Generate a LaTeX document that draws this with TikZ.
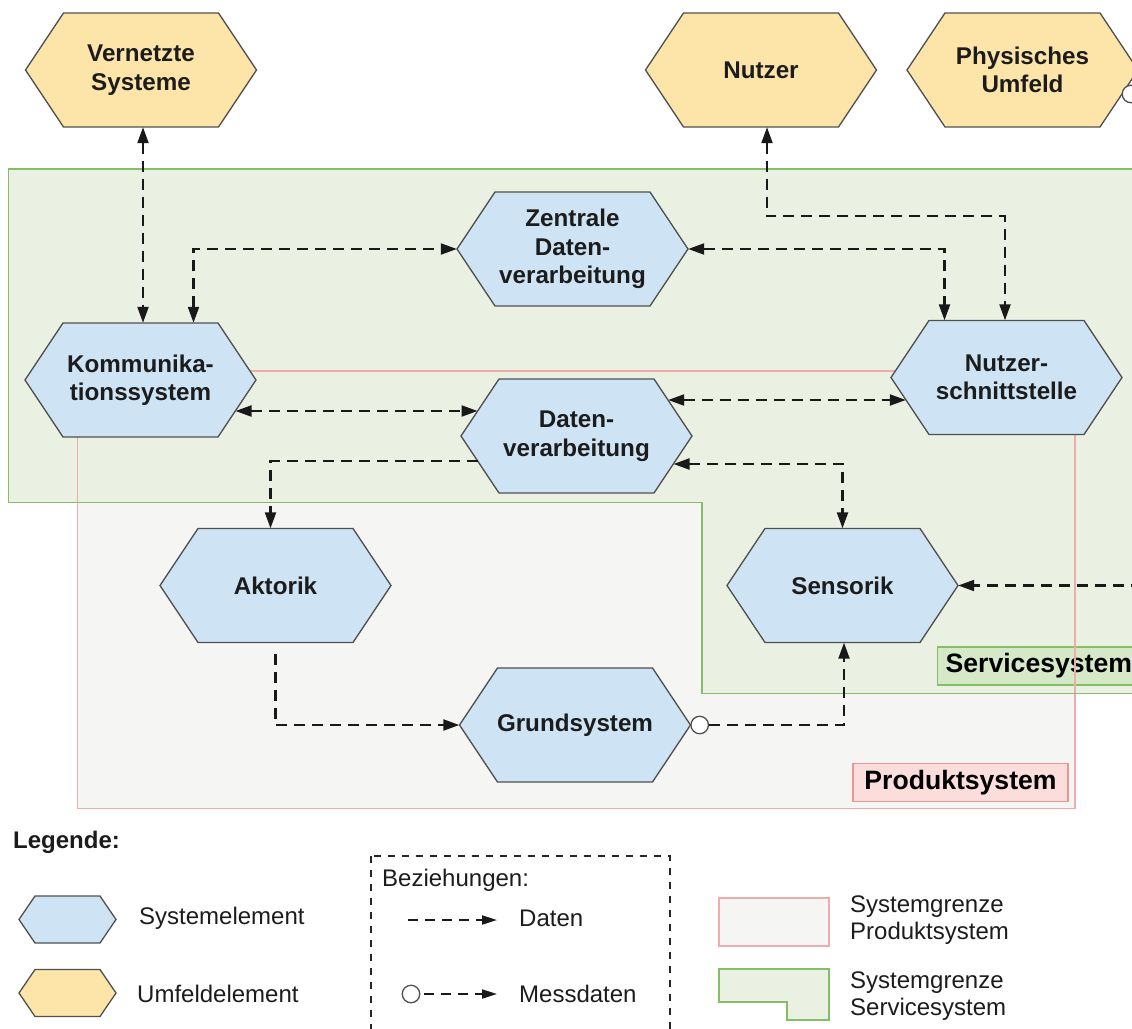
\documentclass[tikz,border=0pt]{standalone}
\usepackage{fontspec}
\setmainfont{Liberation Sans}
\usetikzlibrary{calc,arrows.meta}

\definecolor{sysfill}{RGB}{206,228,245}
\definecolor{envfill}{RGB}{253,229,170}
\definecolor{hexdraw}{RGB}{80,80,80}
\definecolor{servfill}{RGB}{235,241,226}
\definecolor{servline}{RGB}{132,190,104}
\definecolor{servlblfill}{RGB}{213,232,200}
\definecolor{prodfill}{RGB}{245,245,244}
\definecolor{prodline}{RGB}{240,172,168}
\definecolor{prodlblfill}{RGB}{251,221,219}
\definecolor{prodlblline}{RGB}{236,150,148}
\definecolor{txt}{RGB}{28,28,28}

% hexagon with a named rectangular node of the same extent on top of it
% #1 name, #2 centre, #3 half width, #4 half height, #5 slant, #6 text, #7 hexagon style
\newcommand\hexshape[7]{%
  \path[#7, shift={#2}] (-#3,0) -- (-#3+#5,-#4) -- (#3-#5,-#4) -- (#3,0)
        -- (#3-#5,#4) -- (-#3+#5,#4) -- cycle;
  \node[hexlabel, minimum width=2*#3, minimum height=2*#4] (#1) at #2 {#6};}
\newcommand\bighex[4]{\hexshape{#1}{#2}{115.5}{57}{38}{#4}{#3}}
\newcommand\smallhex[3]{\hexshape{#1}{#2}{48.5}{23.5}{16}{}{#3}}

\begin{document}
\begin{tikzpicture}[x=1pt,y=-1pt,
  >={Triangle[length=16pt,width=11pt]},
  hexline/.style={draw=hexdraw, line width=1.3pt, line join=miter},
  sysel/.style={hexline, fill=sysfill},
  envel/.style={hexline, fill=envfill},
  hexlabel/.style={font=\bfseries\fontsize{24.2}{28.5}\selectfont, text=txt, align=center, inner sep=0pt},
  link/.style={draw=black!90, line width=2.2pt, dash pattern=on 11pt off 7pt},
  mcircle/.style={circle, draw=hexdraw, line width=1.3pt, fill=white, minimum size=17.5pt, inner sep=0pt},
  grouplbl/.style={font=\bfseries\fontsize{26.6}{30}\selectfont, text=black, inner xsep=8pt, minimum height=38pt},
  legtext/.style={font=\fontsize{24}{27.5}\selectfont, text=txt, align=left, inner sep=0pt, anchor=west},
  leglink/.style={draw=black!90, line width=2pt, dash pattern=on 10pt off 7pt},
]
\useasboundingbox (0,0) rectangle (1132,1028);
\clip (0,0) rectangle (1132,1028);

% system boundaries: fills
\fill[prodfill] (77.5,371) rectangle (1075,808.5);
\fill[servfill] (8.5,169) -- (1170,169) -- (1170,693.5) -- (702,693.5)
   -- (702,502.5) -- (8.5,502.5) -- cycle;

% boundary labels
\node[grouplbl, fill=servlblfill, draw=servline, line width=1.3pt, anchor=west]
   (servlbl) at (937,666) {Servicesystem};
\node[grouplbl, fill=prodlblfill, draw=prodlblline, line width=1.3pt, minimum width=215pt]
   (prodlbl) at (960.5,782.5) {Produktsystem};

% system boundaries: outlines
\draw[prodline, line width=1.3pt] (77.5,371) rectangle (1075,808.5);
\draw[servline, line width=1.3pt] (8.5,169) -- (1170,169) -- (1170,693.5) -- (702,693.5)
   -- (702,502.5) -- (8.5,502.5) -- cycle;

% environment elements
\bighex{vs}{(141,70)}{envel}{Vernetzte\\Systeme}
\bighex{nu}{(761,70)}{envel}{Nutzer}
\bighex{pu}{(1022.5,70)}{envel}{Physisches\\Umfeld}

% system elements
\bighex{zdv}{(572.5,249)}{sysel}{Zentrale\\Daten-\\verarbeitung}
\bighex{ks}{(140.5,380)}{sysel}{Kommunika-\\tionssystem}
\bighex{ns}{(1006.5,377.5)}{sysel}{Nutzer-\\schnittstelle}
\bighex{dv}{(576.5,436)}{sysel}{Daten-\\verarbeitung}
\bighex{ak}{(275.5,585.5)}{sysel}{Aktorik}
\bighex{se}{(842.5,585.5)}{sysel}{Sensorik}
\bighex{gs}{(575,725)}{sysel}{Grundsystem}

% measuring points
\node[mcircle] (gcirc) at ($(gs.east)+(9,0)$) {};
\node[mcircle] (pcirc) at (1131,94) {};

% data relations
\draw[link,<->] ($(vs.south)+(2,0)$) -- ($(ks.north)+(2.5,0)$);
\draw[link,<->] ($(ks.north)+(53,0)$) |- (zdv.west);
\draw[link,<->] (zdv.east) -| ($(ns.north)+(-62,0)$);
\draw[link,<->] ($(nu.south)+(6,0)$) -- ++(0,89) -| ($(ns.north)+(-1.5,0)$);
\draw[link,<->] ($(ks.east)+(-20.7,31)$) -- ($(dv.west)+(16.7,-25)$);
\draw[link,<->] ($(dv.east)+(-24,-36)$) -- ($(ns.west)+(15,22.5)$);
\draw[link,->] ($(dv.west)+(16.7,25)$) -| ($(ak.north)+(-5,0)$);
\draw[link,<->] ($(dv.east)+(-18.7,28)$) -| (se.north);
\draw[link,->] ($(ak.south)+(0,11)$) |- (gs.west);

% measured data
\draw[link,->] (gcirc.east) -| ($(se.south)+(1.5,0)$);
\draw[link,->] (pcirc.east) -- ++(25,0) |- (se.east);

% legend
\node[legtext, font=\bfseries\fontsize{24}{27.5}\selectfont] (legtitle) at (13,842) {Legende:};
\smallhex{lsys}{(67.5,919.5)}{sysel}
\smallhex{lenv}{(67.5,993)}{envel}
\node[legtext] (lsystxt) at (139,918) {Systemelement};
\node[legtext] (lenvtxt) at (137,994) {Umfeldelement};

\draw[draw=black!85, line width=1.2pt, dash pattern=on 7pt off 7pt] (371,856) rectangle (670,1045);
\node[legtext] (lrel) at (382,880) {Beziehungen:};
\coordinate (ld1) at (408,920);
\coordinate (ld2) at (497,920);
\draw[leglink,-{Triangle[length=15pt,width=9pt]}] (ld1) -- (ld2);
\node[legtext] (ldtxt) at (519,918) {Daten};
\node[mcircle] (lmc) at (411,994) {};
\coordinate (lm2) at (497,994);
\draw[leglink,-{Triangle[length=15pt,width=9pt]}] ($(lmc.east)+(4,0)$) -- (lm2);
\node[legtext] (lmtxt) at (519,994) {Messdaten};

\path[fill=prodfill, draw=prodline, line width=1.3pt] (719,898) rectangle (829,946);
\node[legtext] (lprodtxt) at (850,920) {Systemgrenze\\Produktsystem};
\path[fill=servfill, draw=servline, line width=1.3pt] (719,969) -- (829,969) -- (829,1020)
   -- (787,1020) -- (787,1002) -- (719,1002) -- cycle;
\node[legtext] (lservtxt) at (850,996) {Systemgrenze\\Servicesystem};
\end{tikzpicture}
\end{document}
